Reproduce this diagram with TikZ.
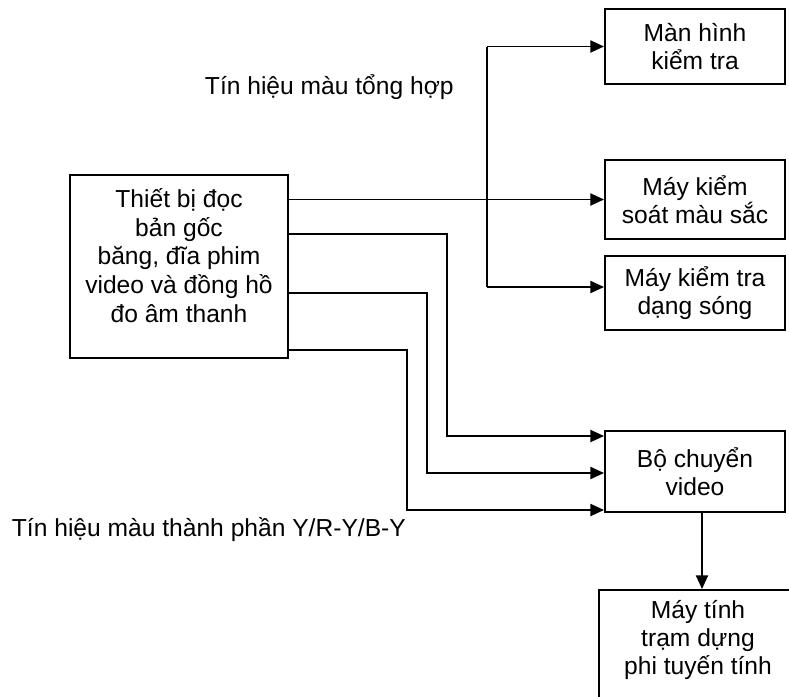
\documentclass[tikz,border=0pt]{standalone}
\usepackage{fontspec}
\setmainfont{Liberation Sans}
\usetikzlibrary{arrows.meta}

\tikzset{
	every node/.style={font=\fontsize{17.5}{20}\selectfont},
	box/.style={draw, line width=1.4pt, minimum width=4.5cm, align=center, inner sep=0pt},
	arr/.style={line width=1.4pt, -{Triangle[length=0.34cm,width=0.3cm]}},
	wire/.style={line width=1.4pt}
}

\begin{document}
\begin{tikzpicture}
		\useasboundingbox (0,0) rectangle (19.725,-17.4);
		\clip (0,0) rectangle (19.725,-17.4);

		% source
		\node[box, minimum width=5.45cm, minimum height=4.575cm] (src) at (4.475,-6.6625) {};
		\node[align=center, font=\fontsize{17.5}{20.5}\selectfont] (srctext) at (4.475,-6.3875) {Thiết bị đọc\\bản gốc\\băng, đĩa phim\\video và đồng hồ\\đo âm thanh};

		% monitors
		\node[box, minimum height=1.875cm] (mon) at (17.375,-1.1625) {Màn hình\\kiểm tra};
		\node[box, minimum height=1.975cm] (col) at (17.375,-4.9875) {Máy kiểm\\soát màu sắc};
		\node[box, minimum height=1.85cm] (wave) at (17.375,-7.325) {Máy kiểm tra\\dạng sóng};

		% converter and editing station
		\node[box, minimum height=2.025cm] (conv) at (17.375,-11.7875) {Bộ chuyển\\video};
		\node[box, anchor=north west, minimum width=5.5cm, minimum height=3.5cm] (pc) at (14.95,-14.725) {};
		\node[align=center] (pctext) at (17.45,-16.0) {Máy tính\\trạm dựng\\phi tuyến tính};

		% labels
		\node[anchor=west] (lblcomp) at (5.0,-2.175) {Tín hiệu màu tổng hợp};
		\node[anchor=west] (lblcomp2) at (0.175,-13.25) {Tín hiệu màu thành phần Y/R-Y/B-Y};

		% composite signal
		\coordinate (split) at (12.175,-4.9875);
		\draw[arr] (src.east |- col.west) -- (col.west);
		\draw[wire] (split |- mon.west) -- (split |- 0,-7.175);
		\draw[arr] (split |- mon.west) -- (mon.west);
		\draw[arr] (split |- 0,-7.175) -- (wave.west |- 0,-7.175);

		% component signal
		\draw[arr] (src.east |- 0,-5.85) -| (11.175,-10.9) -- (conv.west |- 0,-10.9);
		\draw[arr] (src.east |- 0,-7.325) -| (10.675,-11.825) -- (conv.west |- 0,-11.825);
		\draw[arr] (src.east |- 0,-8.75) -| (10.175,-12.75) -- (conv.west |- 0,-12.75);

		\draw[arr] ([xshift=0.175cm]conv.south) -- ([xshift=0.175cm]conv.south |- pc.north);

		\end{tikzpicture}
\end{document}
